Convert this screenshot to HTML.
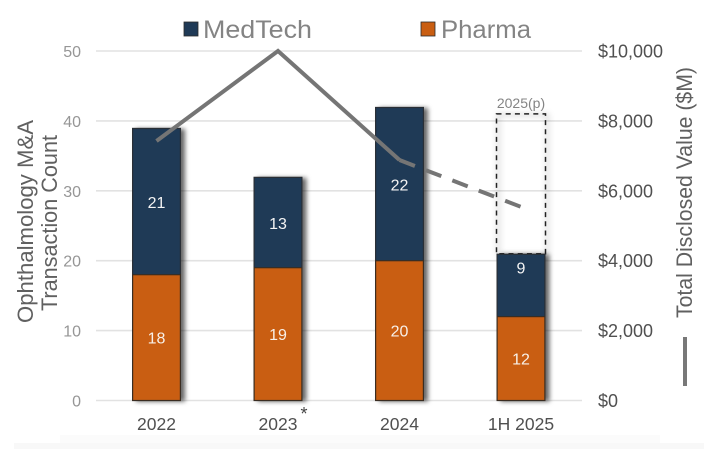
<!DOCTYPE html>
<html lang="en">
<head>
<meta charset="utf-8">
<title>Ophthalmology M&amp;A Transactions</title>
<style>
html,body{margin:0;padding:0;background:#fff;width:714px;height:449px;overflow:hidden}
svg{display:block;font-family:"Liberation Sans",Arial,sans-serif}
</style>
</head>
<body>
<svg id="chart" width="714" height="449" viewBox="0 0 714 449" xmlns="http://www.w3.org/2000/svg">
  <defs>
    <filter id="bar-shadow" x="-30%" y="-10%" width="170%" height="120%">
      <feDropShadow dx="4" dy="1" stdDeviation="2.4" flood-color="#000" flood-opacity="0.6"/>
    </filter>
    <filter id="box-shadow" x="-30%" y="-10%" width="170%" height="120%">
      <feGaussianBlur stdDeviation="3"/>
    </filter>
  </defs>
  <rect x="60" y="435" width="600" height="14" fill="#fbfbfb"/>
  <rect x="14" y="443" width="690" height="6" fill="#f8f8f8"/>

  <g id="grid"></g>
  <g id="projection"></g>
  <g id="bars"></g>
  <g id="line"></g>
  <g id="ticks"></g>

  <rect x="184" y="22" width="14" height="14" fill="#1f3a56" stroke="#2b2b2b" stroke-width="0.8"/>
  <text x="203" y="38" font-size="25" fill="#848484" textLength="109" lengthAdjust="spacingAndGlyphs">MedTech</text>
  <rect x="421" y="22" width="14" height="14" fill="#c95e12" stroke="#2b2b2b" stroke-width="0.8"/>
  <text x="441" y="38" font-size="25" fill="#848484" textLength="90" lengthAdjust="spacingAndGlyphs">Pharma</text>

  <text transform="translate(33,323) rotate(-90)" font-size="22" fill="#606060" textLength="203" lengthAdjust="spacingAndGlyphs">Ophthalmology M&amp;A</text>
  <text transform="translate(57,311) rotate(-90)" font-size="22" fill="#606060" textLength="176" lengthAdjust="spacingAndGlyphs">Transaction Count</text>
  <text transform="translate(692,318) rotate(-90)" font-size="22" fill="#606060" textLength="251" lengthAdjust="spacingAndGlyphs">Total Disclosed Value ($M)</text>
  <line x1="685" y1="337" x2="685" y2="386" stroke="#787878" stroke-width="4"/>

  <text x="304" y="420" font-size="18" fill="#444" text-anchor="middle">*</text>
</svg>
<script>
const categories = ["2022", "2023", "2024", "1H 2025"];
const pharma = [18, 19, 20, 12];
const medtech = [21, 13, 22, 9];
const disclosedValue = [7425, 10000, 6880];
const projectedValue = [6880, 5540];
const projectedCount = [41];
const projectedLabel = ["2025(p)"];
const countTicks = [0, 10, 20, 30, 40, 50];
const valueTicks = [0, 2000, 4000, 6000, 8000, 10000];
const valueTickLabels = ["$0", "$2,000", "$4,000", "$6,000", "$8,000", "$10,000"];

const NS = "http://www.w3.org/2000/svg";
const plotLeft = 96, plotRight = 582, plotTop = 51, plotBottom = 400.5;
const barWidth = 49;
const countMax = 50, valueMax = 10000;

function yCount(v) { return plotBottom - (v / countMax) * (plotBottom - plotTop); }
function yValue(v) { return plotBottom - (v / valueMax) * (plotBottom - plotTop); }
function xCat(i) { return 156.5 + i * ((521 - 156.5) / (categories.length - 1)); }

function make(parent, tag, attrs, text) {
  const el = document.createElementNS(NS, tag);
  for (const k in attrs) el.setAttribute(k, attrs[k]);
  if (text !== undefined) el.textContent = text;
  document.getElementById(parent).appendChild(el);
  return el;
}

countTicks.forEach(function (t) {
  const g = make("grid", "line", { x1: plotLeft, x2: plotRight, y1: yCount(t), y2: yCount(t), stroke: "#e2e2e2", "stroke-width": 1.6 });
  
  
  const l = make("ticks", "text", { x: 81, y: yCount(t) + 6, "font-size": 16, fill: "#969696", "text-anchor": "end" }, String(t));
  
  
});

valueTicks.forEach(function (t, i) {
  const l = make("ticks", "text", { x: 598, y: yValue(t) + 6.5, "font-size": 18, fill: "#505050" }, valueTickLabels[i]);
  
  
});

/* projected 2025 outline */
const projX = xCat(3) - barWidth / 2;
const projTop = yCount(projectedCount[0]);
const projBottom = yCount(pharma[3] + medtech[3]);
const halo = make("projection", "rect", { x: projX + 2, y: projTop + 1, width: barWidth, height: projBottom - projTop, fill: "none", stroke: "#000", "stroke-opacity": 0.16, "stroke-width": 3, filter: "url(#box-shadow)" });


const box = make("projection", "rect", { x: projX, y: projTop, width: barWidth, height: projBottom - projTop, fill: "none", stroke: "#222", "stroke-width": 1.5, "stroke-dasharray": "5 4.2" });


const projText = make("projection", "text", { x: xCat(3), y: projTop - 6, "font-size": 14, fill: "#848484", "text-anchor": "middle" }, projectedLabel[0]);



categories.forEach(function (c, i) {
  const x = xCat(i) - barWidth / 2;
  const y0 = yCount(0), y1 = yCount(pharma[i]), y2 = yCount(pharma[i] + medtech[i]);

  const shadow = make("bars", "rect", { x: x, y: y2, width: barWidth, height: y0 - y2, fill: "#555", filter: "url(#bar-shadow)" });
  
  

  const navy = make("bars", "rect", { x: x + 0.6, y: y2 + 0.6, width: barWidth - 1.2, height: y1 - y2, fill: "#1f3a56", stroke: "#2a2f36", "stroke-width": 1.2 });
  
  

  const orange = make("bars", "rect", { x: x + 0.6, y: y1, width: barWidth - 1.2, height: y0 - y1, fill: "#c95e12", stroke: "#3a2d22", "stroke-width": 1.2 });
  
  

  /* the final MedTech label sits near the top of its segment in the source */
  const medY = i === categories.length - 1 ? y2 + 20 : (y1 + y2) / 2 + 6.5;
  const medLabel = make("bars", "text", { x: xCat(i), y: medY, "font-size": 16, fill: "#f4f4f4", "text-anchor": "middle" }, String(medtech[i]));
  
  

  const phLabel = make("bars", "text", { x: xCat(i), y: (y0 + y1) / 2 + 6, "font-size": 16, fill: "#f8f0e8", "text-anchor": "middle" }, String(pharma[i]));
  
  

  const cat = make("ticks", "text", { x: xCat(i), y: 430, "font-size": 17.5, fill: "#505050", "text-anchor": "middle" }, c);
  
  
});

const solidPts = disclosedValue.map(function (v, i) { return xCat(i) + "," + yValue(v); }).join(" ");
const solid = make("line", "polyline", { points: solidPts, fill: "none", stroke: "#757575", "stroke-width": 4, "stroke-linejoin": "miter" });



const dashPts = projectedValue.map(function (v, i) { return xCat(i + 2) + "," + yValue(v); }).join(" ");
const dashed = make("line", "polyline", { points: dashPts, fill: "none", stroke: "#757575", "stroke-width": 4, "stroke-dasharray": "16.5 11.8" });


</script>
</body>
</html>
